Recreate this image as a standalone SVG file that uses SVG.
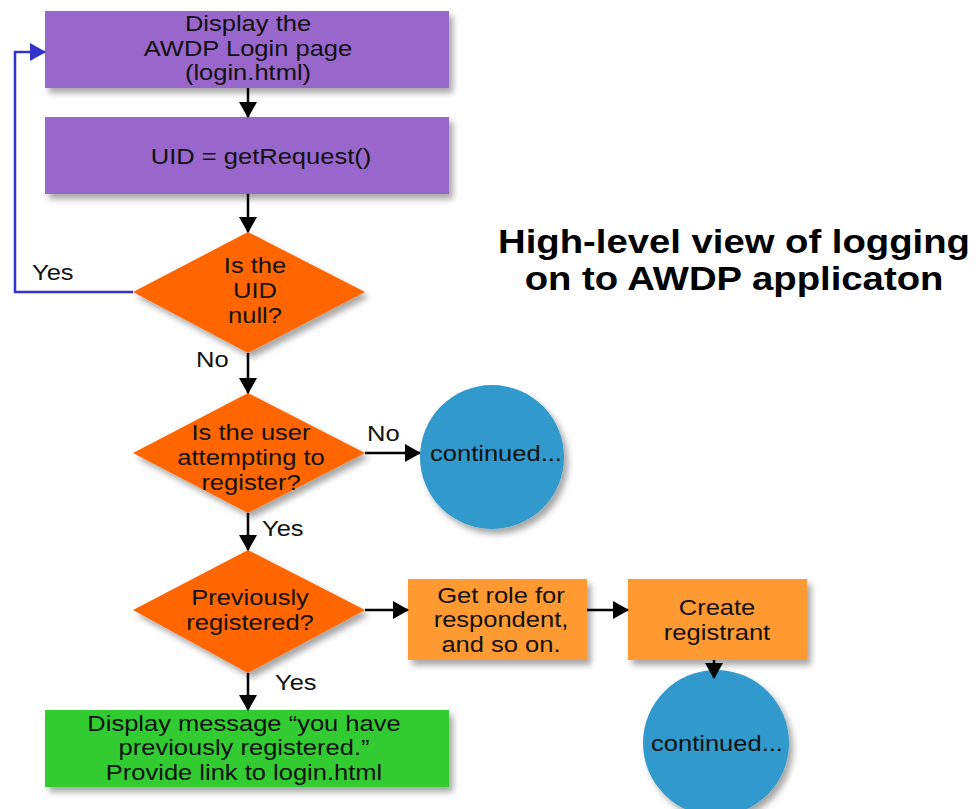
<svg xmlns="http://www.w3.org/2000/svg" width="977" height="809" viewBox="0 0 977 809">
<defs>
<filter id="sh" x="-10%" y="-10%" width="130%" height="140%">
<feDropShadow dx="4" dy="5" stdDeviation="3" flood-color="#000" flood-opacity="0.35"/>
</filter>
<marker id="ah" viewBox="0 0 16 18" refX="15" refY="9" markerWidth="6.4" markerHeight="7.2" orient="auto" markerUnits="strokeWidth">
<path d="M0,0 L16,9 L0,18 z" fill="#000"/>
</marker>
<marker id="ahb" viewBox="0 0 16 18" refX="15" refY="9" markerWidth="6.4" markerHeight="7.2" orient="auto" markerUnits="strokeWidth">
<path d="M0,0 L16,9 L0,18 z" fill="#3333cc"/>
</marker>
</defs>
<style>
text{font-family:"Liberation Sans",Arial,sans-serif;font-size:22px;fill:#111;text-anchor:middle}
.lbl{text-anchor:start}
.purple{fill:#9966cc}
.dia{fill:#ff6600}
.org{fill:#ff9933}
.grn{fill:#33cc33}
.circ{fill:#3399cc}
.c{stroke:#000;stroke-width:2.5;fill:none;marker-end:url(#ah)}
.title{font-size:33px;font-weight:bold;fill:#000}
</style>
<rect width="977" height="809" fill="#fff"/>
<g id="n1"><rect class="purple" x="45" y="11" width="404" height="77" filter="url(#sh)"/>
<g transform="translate(248 0) scale(1.16 1)"><text x="0" y="31">Display the</text><text x="0" y="56">AWDP Login page</text><text x="0" y="80">(login.html)</text></g></g>
<g id="n2"><rect class="purple" x="45" y="117" width="404" height="77" filter="url(#sh)"/>
<g transform="translate(261 0) scale(1.16 1)"><text x="0" y="164">UID = getRequest()</text></g></g>
<g id="d1"><polygon class="dia" points="248,232 365,292 248,353 133,292" filter="url(#sh)"/>
<g transform="translate(255 0) scale(1.16 1)"><text x="0" y="273">Is the</text><text x="0" y="298">UID</text><text x="0" y="323">null?</text></g></g>
<g id="d2"><polygon class="dia" points="248,393 365,453 248,513 133,453" filter="url(#sh)"/>
<g transform="translate(251 0) scale(1.16 1)"><text x="0" y="440">Is the user</text><text x="0" y="465">attempting to</text><text x="0" y="490">register?</text></g></g>
<g id="d3"><polygon class="dia" points="248,550 365,610 248,673 133,610" filter="url(#sh)"/>
<g transform="translate(250 0) scale(1.16 1)"><text x="0" y="605">Previously</text><text x="0" y="630">registered?</text></g></g>
<g id="n3"><rect class="grn" x="45" y="710" width="404" height="77" filter="url(#sh)"/>
<g transform="translate(244 0) scale(1.16 1)"><text x="0" y="731">Display message “you have</text><text x="0" y="755">previously registered.”</text><text x="0" y="780">Provide link to login.html</text></g></g>
<g id="c1"><circle class="circ" cx="492" cy="457" r="72" filter="url(#sh)"/>
<g transform="translate(496 0) scale(1.16 1)"><text x="0" y="461">continued...</text></g></g>
<g id="n4"><rect class="org" x="408" y="579" width="179" height="81" filter="url(#sh)"/>
<g transform="translate(501 0) scale(1.16 1)"><text x="0" y="603">Get role for</text><text x="0" y="627">respondent,</text><text x="0" y="652">and so on.</text></g></g>
<g id="n5"><rect class="org" x="628" y="579" width="179" height="81" filter="url(#sh)"/>
<g transform="translate(717 0) scale(1.16 1)"><text x="0" y="615">Create</text><text x="0" y="640">registrant</text></g></g>
<g id="c2"><circle class="circ" cx="716" cy="743" r="73" filter="url(#sh)"/>
<g transform="translate(717 0) scale(1.16 1)"><text x="0" y="751">continued...</text></g></g>
<g id="title"><g transform="translate(734 0) scale(1.16 1)"><text class="title" x="0" y="253">High-level view of logging</text><text class="title" x="0" y="290">on to AWDP applicaton</text></g></g>
<g id="connectors">
<path class="c" d="M248,88 V117"/>
<path class="c" d="M248,194 V232"/>
<path class="c" d="M248,353 V393"/>
<path class="c" d="M248,513 V550"/>
<path class="c" d="M248,673 V710"/>
<path class="c" d="M365,453 H420"/>
<path class="c" d="M365,610 H408"/>
<path class="c" d="M587,610 H628"/>
<path class="c" d="M714,660 V678"/>
<path d="M133,292 H15 V52 H45" stroke="#3333cc" stroke-width="2.5" fill="none" marker-end="url(#ahb)"/>
<g transform="translate(32 0) scale(1.16 1)"><text class="lbl" x="0" y="280">Yes</text></g>
<g transform="translate(196 0) scale(1.16 1)"><text class="lbl" x="0" y="367">No</text></g>
<g transform="translate(367 0) scale(1.16 1)"><text class="lbl" x="0" y="441">No</text></g>
<g transform="translate(262 0) scale(1.16 1)"><text class="lbl" x="0" y="536">Yes</text></g>
<g transform="translate(275 0) scale(1.16 1)"><text class="lbl" x="0" y="690">Yes</text></g>
</g>
</svg>
